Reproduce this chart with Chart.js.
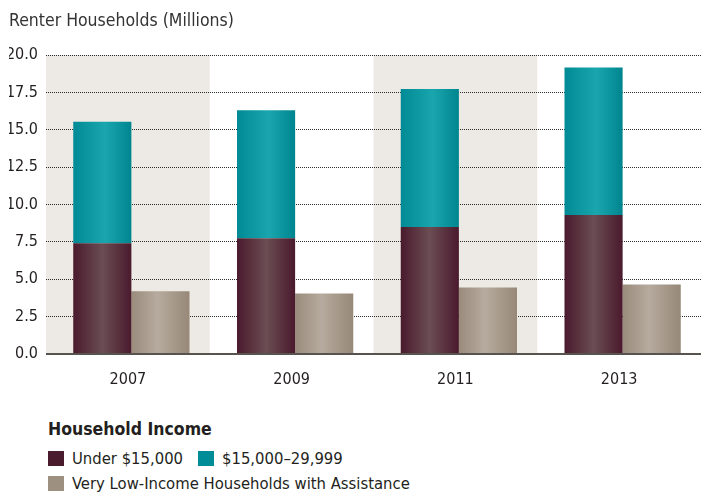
<!DOCTYPE html>
<html>
<head>
<meta charset="utf-8">
<script src="https://cdn.jsdelivr.net/npm/chart.js@4/dist/chart.umd.min.js"></script>
<style>
  html, body { margin: 0; padding: 0; background: #fff; }
  #wrap { position: relative; width: 701px; height: 495px; overflow: hidden; font-family: "DejaVu Sans Condensed", "Liberation Sans Narrow", sans-serif; color: #231f20; }
  #c { position: absolute; left: 0; top: 0; }
  #legend { position: absolute; left: 48px; top: 415px; }
  #legend .ttl { font-weight: bold; font-size: 17.5px; line-height: 28px; color: #231f20; }
  #legend .row { display: flex; align-items: center; height: 25px; font-size: 16.5px; }
  #legend .row.first { margin-top: 3px; }
  #legend .item { display: flex; align-items: center; margin-right: 15px; }
  #legend .sw { width: 16px; height: 15px; margin-right: 8px; }
</style>
</head>
<body>
<div id="wrap">
  <canvas id="c" width="701" height="400"></canvas>
  <div id="legend"></div>
</div>
<script>
const categories = ["2007", "2009", "2011", "2013"];
const under15k = [7.4, 7.75, 8.5, 9.3];
const from15to30k = [8.13, 8.55, 9.23, 9.87];
const withAssistance = [4.2, 4.05, 4.45, 4.65];
const yTicks = [0, 2.5, 5, 7.5, 10, 12.5, 15, 17.5, 20];
const seriesLabels = ["Under $15,000", "$15,000\u201329,999", "Very Low-Income Households with Assistance"];
const legendTitle = "Household Income";
const chartTitle = "Renter Households (Millions)";

const FONT = "'DejaVu Sans Condensed', 'Liberation Sans Narrow', sans-serif";
const swatch = ["#4a1a2d", "#008d97", "#9d9081"];

function grad(stops, fallback) {
  return function (c) {
    const el = c.element;
    if (!el || !isFinite(el.x) || !isFinite(el.width) || el.width <= 0) return fallback;
    const g = c.chart.ctx.createLinearGradient(el.x - el.width / 2, 0, el.x + el.width / 2, 0);
    stops.forEach(s => g.addColorStop(s[0], s[1]));
    return g;
  };
}

const bandsPlugin = {
  id: 'bands',
  beforeDraw(chart) {
    const { ctx, scales: { x, y } } = chart;
    const top = y.getPixelForValue(20), bot = y.getPixelForValue(0);
    const half = (x.getPixelForValue(1) - x.getPixelForValue(0)) / 2;
    ctx.save();
    ctx.fillStyle = "#edeae5";
    categories.forEach((c, i) => {
      if (i % 2 === 0) {
        const cx = x.getPixelForValue(i);
        ctx.fillRect(cx - half, top, half * 2, bot - top);
      }
    });
    ctx.restore();
  }
};

// the bar groups sit slightly right of the category centre in the original
const barShiftPlugin = {
  id: 'barShift',
  beforeDatasetsDraw(chart) { chart.ctx.save(); chart.ctx.translate(3.5, 0); },
  afterDatasetsDraw(chart) { chart.ctx.restore(); }
};

const baseLinePlugin = {
  id: 'baseLine',
  afterDatasetsDraw(chart) {
    const { ctx, chartArea, scales: { y } } = chart;
    const y0 = y.getPixelForValue(0);
    ctx.save();
    ctx.strokeStyle = "#57534f";
    ctx.lineWidth = 2;
    ctx.beginPath();
    ctx.moveTo(chartArea.left, y0);
    ctx.lineTo(chartArea.right, y0);
    ctx.stroke();
    ctx.restore();
  }
};

const chart = new Chart(document.getElementById('c'), {
  type: 'bar',
  data: {
    labels: categories,
    datasets: [
      { label: seriesLabels[0], data: under15k, stack: 'a',
        backgroundColor: grad([[0, "#4a1a2d"], [0.5, "#6b4d53"], [1, "#4a1a2d"]], swatch[0]) },
      { label: seriesLabels[1], data: from15to30k, stack: 'a',
        backgroundColor: grad([[0, "#008a95"], [0.55, "#1aa6ae"], [1, "#00858f"]], swatch[1]) },
      { label: seriesLabels[2], data: withAssistance, stack: 'b',
        backgroundColor: grad([[0, "#9a8b7c"], [0.45, "#b6ab9e"], [1, "#978878"]], swatch[2]) }
    ]
  },
  options: {
    responsive: false,
    animation: false,
    events: [],
    layout: { padding: { left: 9, right: 0, top: 0, bottom: 8 } },
    datasets: { bar: { barPercentage: 1, categoryPercentage: 0.71, borderWidth: 0 } },
    plugins: {
      legend: { display: false },
      tooltip: { enabled: false },
      title: {
        display: true, text: chartTitle, align: 'start',
        color: "#333", font: { family: FONT, size: 17.5, weight: 'normal' },
        padding: { top: 11, bottom: 23 }
      }
    },
    scales: {
      x: {
        stacked: true,
        afterFit: s => { s.height = 38; },
        grid: { display: false, drawTicks: false },
        border: { display: false },
        ticks: { color: "#231f20", font: { family: FONT, size: 16 }, padding: 16 }
      },
      y: {
        stacked: true,
        min: 0, max: 20,
        afterFit: s => { s.width = 37; },
        afterBuildTicks: s => { s.ticks = yTicks.map(v => ({ value: v })); },
        grid: { color: "#2a2a2a", lineWidth: 1, drawTicks: false },
        border: { display: false, dash: [1, 1] },
        ticks: { color: "#231f20", font: { family: FONT, size: 16 }, padding: 8,
                 callback: v => Number(v).toFixed(1) }
      }
    }
  },
  plugins: [bandsPlugin, barShiftPlugin, baseLinePlugin]
});
chart.update('none');

// HTML legend built from dataset labels
const lg = document.getElementById('legend');
const t = document.createElement('div'); t.className = 'ttl'; t.textContent = legendTitle; lg.appendChild(t);
const rows = [[0, 1], [2]];
rows.forEach((r, ri) => {
  const row = document.createElement('div'); row.className = 'row' + (ri === 0 ? ' first' : '');
  r.forEach(i => {
    const it = document.createElement('div'); it.className = 'item';
    const sw = document.createElement('span'); sw.className = 'sw'; sw.style.background = swatch[i];
    const tx = document.createElement('span'); tx.textContent = chart.data.datasets[i].label;
    it.appendChild(sw); it.appendChild(tx); row.appendChild(it);
  });
  lg.appendChild(row);
});
</script>
</body>
</html>
